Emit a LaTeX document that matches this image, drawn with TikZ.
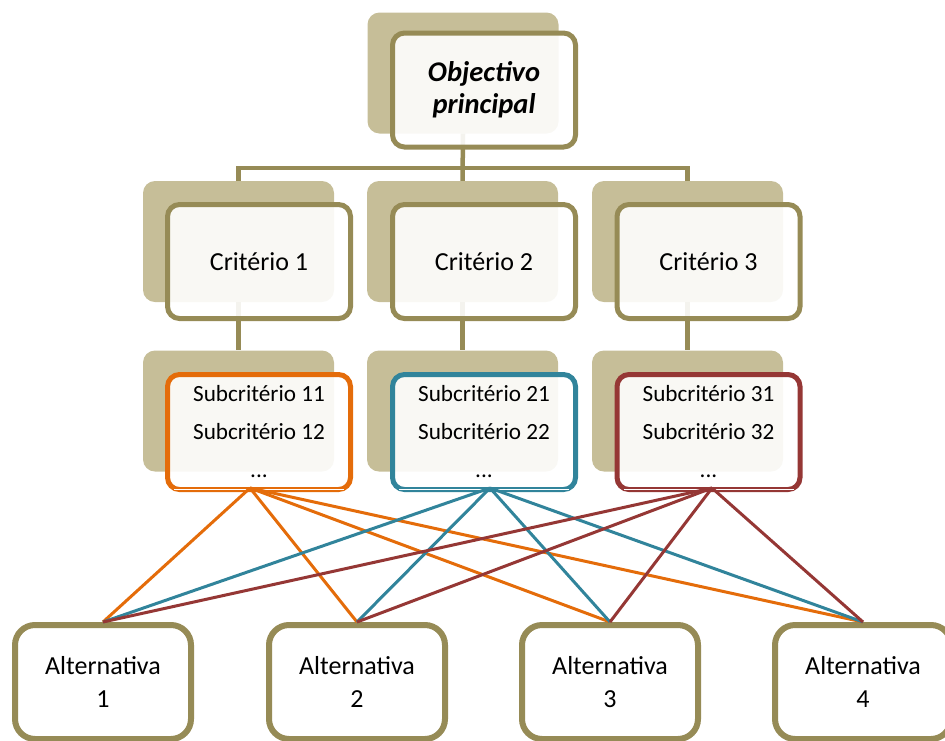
\documentclass[tikz,border=0pt]{standalone}
\usepackage{fontspec}
\setmainfont{Carlito}
\definecolor{olivebd}{HTML}{968B56}
\definecolor{tanbg}{HTML}{C6BE98}
\definecolor{orangebd}{HTML}{E46C0A}
\definecolor{tealbd}{HTML}{31849B}
\definecolor{redbd}{HTML}{953735}
\begin{document}
\begin{tikzpicture}[x=1pt,y=-1pt,
  back/.style={fill=tanbg, rounded corners=12pt, minimum width=191pt,
    minimum height=121pt, inner sep=0pt, draw=none},
  front/.style={draw=olivebd, line width=5pt, fill=white, fill opacity=0.9,
    text opacity=1, rounded corners=12pt, minimum width=183pt,
    minimum height=114pt, align=center, inner sep=2pt},
  subbox/.style={front, minimum height=115pt, font=\fontsize{23.2}{38}\selectfont},
  altbox/.style={draw=olivebd, line width=6pt, fill=white, rounded corners=20pt,
    minimum width=176pt, minimum height=114pt, align=center,
    font=\fontsize{26}{33}\selectfont},
  tree/.style={draw=olivebd, line width=4.5pt},
  link/.style={line width=3pt},
  crit/.style={front, font=\fontsize{26}{32}\selectfont}
]
\useasboundingbox (0,0) rectangle (945,740);

% back plates
\node[back] (gB)  at (463,73) {};
\node[back] (c1B) at (238.5,241.5) {};
\node[back] (c2B) at (462.5,241.5) {};
\node[back] (c3B) at (687.5,241.5) {};
\node[back] (s1B) at (238.5,411) {};
\node[back] (s2B) at (462.5,411) {};
\node[back] (s3B) at (687.5,411) {};

% hierarchy connectors
\coordinate (j) at (463,168);
\draw[tree] (gB.south) -- (c2B.north);
\draw[tree] (c1B.north) -- (c1B.north |- j) -- (c3B.north |- j) -- (c3B.north);
\draw[tree] (c1B.south) -- (s1B.north);
\draw[tree] (c2B.south) -- (s2B.north);
\draw[tree] (c3B.south) -- (s3B.north);

% front boxes
\node[front, font=\fontsize{28.5}{32}\selectfont\bfseries\itshape] (goal) at (484,90) {Objectivo\\principal};
\node[crit] (c1) at (259,261.5) {Critério 1};
\node[crit] (c2) at (484,261.5) {Critério 2};
\node[crit] (c3) at (708.5,261.5) {Critério 3};

\node[subbox, draw=orangebd] (s1) at (259,432) {Subcritério 11\\Subcritério 12\\...};
\node[subbox, draw=tealbd]   (s2) at (484,432) {Subcritério 21\\Subcritério 22\\...};
\node[subbox, draw=redbd]    (s3) at (708.5,432) {Subcritério 31\\Subcritério 32\\...};

\foreach \s in {s1,s2,s3}
  \draw[white, line width=1.2pt] ([shift={(9,-2.5)}]\s.south west) -- ([shift={(-9,-2.5)}]\s.south east);

% alternatives
\node[altbox] (a1) at (103,682) {Alternativa\\1};
\node[altbox] (a2) at (357,682) {Alternativa\\2};
\node[altbox] (a3) at (610,682) {Alternativa\\3};
\node[altbox] (a4) at (863,682) {Alternativa\\4};

% links from sub-criteria to alternatives
\coordinate (o1) at (250,488);
\coordinate (o2) at (490,488);
\coordinate (o3) at (712,488);
\foreach \a in {a1,a2,a3,a4} \draw[link, orangebd] (o1) -- (\a.north);
\foreach \a in {a1,a2,a3,a4} \draw[link, tealbd] (o2) -- (\a.north);
\foreach \a in {a1,a2,a3,a4} \draw[link, redbd] (o3) -- (\a.north);
\end{tikzpicture}
\end{document}
